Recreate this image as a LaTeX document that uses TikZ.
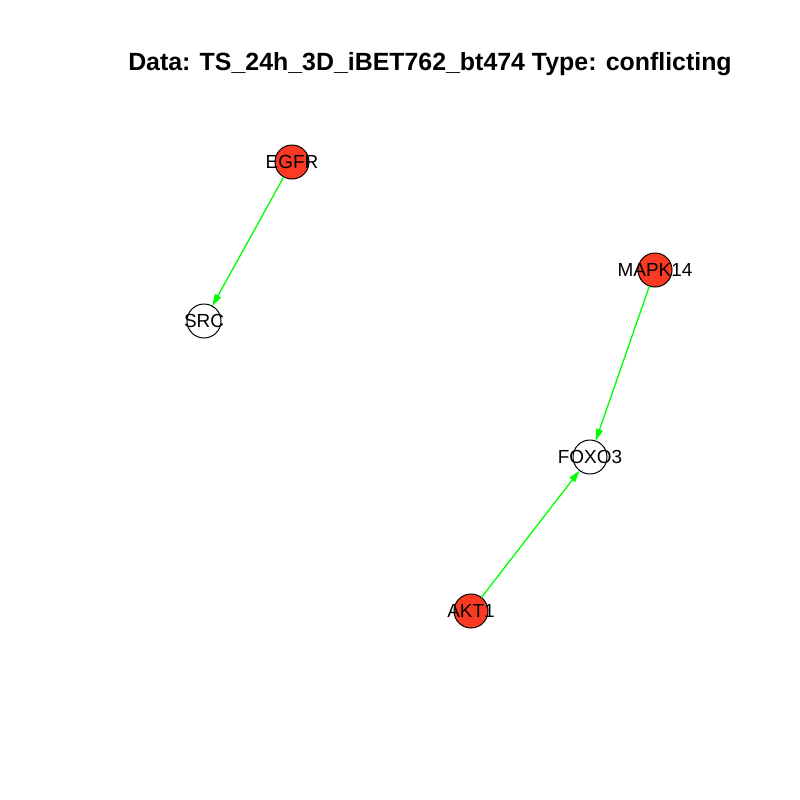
\documentclass[tikz,border=0pt]{standalone}
\usepackage{fontspec}
\setmainfont{Liberation Sans}
\usepackage{tikz}
\usetikzlibrary{arrows.meta}
\definecolor{hitred}{RGB}{250,58,34}
\definecolor{actgreen}{RGB}{0,255,0}

\begin{document}
\begin{tikzpicture}[x=0.5bp,y=-0.5bp,
		gene/.style={circle,draw=black,line width=0.5bp,minimum size=17bp,inner sep=0pt,outer sep=0pt},
		hit/.style={gene,fill=hitred},
		every label/.style={font=\fontsize{9.5}{10}\selectfont,inner sep=0pt},
		act/.style={draw=actgreen,line width=0.65bp,-{Triangle[length=6bp,width=3.5bp]}}]
		\useasboundingbox (0,0) rectangle (800,800);
		\node[font=\bfseries\fontsize{12.5}{14}\selectfont] (title) at (430,64) {Data: TS\_24h\_3D\_iBET762\_bt474 Type: conflicting};
		\node[hit,label=center:EGFR]    (egfr)   at (292,162) {};
		\node[gene,label=center:SRC]    (src)    at (204,321) {};
		\node[hit,label=center:MAPK14]  (mapk14) at (655,270) {};
		\node[gene,label=center:FOXO3]  (foxo3)  at (590,457) {};
		\node[hit,label=center:AKT1]    (akt1)   at (471,611) {};
		\path
			(egfr)   edge [act] (src)
			(mapk14) edge [act] (foxo3)
			(akt1)   edge [act] (foxo3);
	\end{tikzpicture}
\end{document}
